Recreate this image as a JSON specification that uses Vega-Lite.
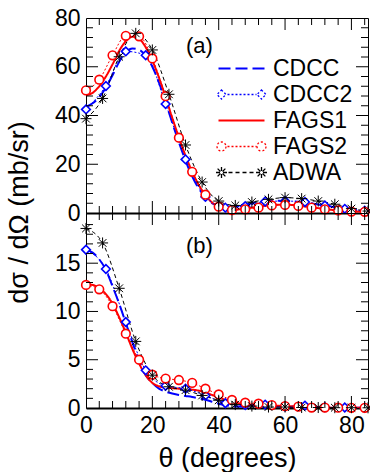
{
  "$schema": "https://vega.github.io/schema/vega-lite/v6.json",
  "padding": {"left": 4, "top": 6, "right": 2, "bottom": 2},
  "bounds": "flush",
  "spacing": 0,
  "config": {
    "font": "Liberation Sans",
    "view": {"stroke": "black", "strokeWidth": 1},
    "axis": {"grid": false, "labelFont": "Liberation Sans", "labelFontSize": 23, "labelColor": "black", "labelFlush": false, "titleFont": "Liberation Sans", "titleFontSize": 24, "titleFontWeight": "normal", "titleColor": "black", "ticks": false, "domain": false}
  },
  "datasets": {
    "xt": [{"k":4,"m":"minor"},{"k":8,"m":"minor"},{"k":12,"m":"minor"},{"k":16,"m":"minor"},{"k":20,"m":"major"},{"k":24,"m":"minor"},{"k":28,"m":"minor"},{"k":32,"m":"minor"},{"k":36,"m":"minor"},{"k":40,"m":"major"},{"k":44,"m":"minor"},{"k":48,"m":"minor"},{"k":52,"m":"minor"},{"k":56,"m":"minor"},{"k":60,"m":"major"},{"k":64,"m":"minor"},{"k":68,"m":"minor"},{"k":72,"m":"minor"},{"k":76,"m":"minor"},{"k":80,"m":"major"},{"k":84,"m":"minor"}],
    "yta": [{"k":4,"m":"minor"},{"k":8,"m":"minor"},{"k":12,"m":"minor"},{"k":16,"m":"minor"},{"k":20,"m":"major"},{"k":24,"m":"minor"},{"k":28,"m":"minor"},{"k":32,"m":"minor"},{"k":36,"m":"minor"},{"k":40,"m":"major"},{"k":44,"m":"minor"},{"k":48,"m":"minor"},{"k":52,"m":"minor"},{"k":56,"m":"minor"},{"k":60,"m":"major"},{"k":64,"m":"minor"},{"k":68,"m":"minor"},{"k":72,"m":"minor"},{"k":76,"m":"minor"}],
    "ytb": [{"k":1,"m":"minor"},{"k":2,"m":"minor"},{"k":3,"m":"minor"},{"k":4,"m":"minor"},{"k":5,"m":"major"},{"k":6,"m":"minor"},{"k":7,"m":"minor"},{"k":8,"m":"minor"},{"k":9,"m":"minor"},{"k":10,"m":"major"},{"k":11,"m":"minor"},{"k":12,"m":"minor"},{"k":13,"m":"minor"},{"k":14,"m":"minor"},{"k":15,"m":"major"},{"k":16,"m":"minor"},{"k":17,"m":"minor"},{"k":18,"m":"minor"},{"k":19,"m":"minor"}],
    "a": [
      {"s":"CDCC","t":0,"v":43.5},{"s":"CDCC","t":2,"v":45},{"s":"CDCC","t":4,"v":47.5},{"s":"CDCC","t":6,"v":51.5},{"s":"CDCC","t":8,"v":56.5},{"s":"CDCC","t":10,"v":62},{"s":"CDCC","t":12,"v":66},{"s":"CDCC","t":14,"v":67.5},{"s":"CDCC","t":16,"v":67},{"s":"CDCC","t":18,"v":64.5},{"s":"CDCC","t":20,"v":60},{"s":"CDCC","t":22,"v":53.5},{"s":"CDCC","t":24,"v":45.5},{"s":"CDCC","t":26,"v":37},{"s":"CDCC","t":28,"v":29},{"s":"CDCC","t":30,"v":21.5},{"s":"CDCC","t":32,"v":15},{"s":"CDCC","t":34,"v":10},{"s":"CDCC","t":36,"v":6.5},{"s":"CDCC","t":38,"v":4},{"s":"CDCC","t":40,"v":2.7},{"s":"CDCC","t":42,"v":2.2},{"s":"CDCC","t":44,"v":2.3},{"s":"CDCC","t":46,"v":2.8},{"s":"CDCC","t":48,"v":3.4},{"s":"CDCC","t":50,"v":4},{"s":"CDCC","t":52,"v":4.5},{"s":"CDCC","t":54,"v":4.8},{"s":"CDCC","t":56,"v":5},{"s":"CDCC","t":58,"v":5},{"s":"CDCC","t":60,"v":4.9},{"s":"CDCC","t":62,"v":4.8},{"s":"CDCC","t":64,"v":4.6},{"s":"CDCC","t":66,"v":4.3},{"s":"CDCC","t":68,"v":3.9},{"s":"CDCC","t":70,"v":3.5},{"s":"CDCC","t":72,"v":3.1},{"s":"CDCC","t":74,"v":2.6},{"s":"CDCC","t":76,"v":2.2},{"s":"CDCC","t":78,"v":1.8},{"s":"CDCC","t":80,"v":1.4},{"s":"CDCC","t":82,"v":1.1},{"s":"CDCC","t":84,"v":0.9},{"s":"CDCC","t":85,"v":0.8},
      {"s":"CDCC2","t":0,"v":42.5},{"s":"CDCC2","t":6,"v":52.1},{"s":"CDCC2","t":12,"v":66.3},{"s":"CDCC2","t":18,"v":64.7},{"s":"CDCC2","t":24,"v":44.7},{"s":"CDCC2","t":30,"v":22},{"s":"CDCC2","t":36,"v":6.6},{"s":"CDCC2","t":42,"v":2.2},{"s":"CDCC2","t":48,"v":2.8},{"s":"CDCC2","t":54,"v":4.7},{"s":"CDCC2","t":60,"v":4.9},{"s":"CDCC2","t":66,"v":4.5},{"s":"CDCC2","t":72,"v":3.1},{"s":"CDCC2","t":78,"v":1.7},{"s":"CDCC2","t":84,"v":0.9},
      {"s":"FAGS1","t":0,"v":48.3},{"s":"FAGS1","t":2,"v":49.3},{"s":"FAGS1","t":4,"v":52},{"s":"FAGS1","t":6,"v":56},{"s":"FAGS1","t":8,"v":61},{"s":"FAGS1","t":10,"v":66.5},{"s":"FAGS1","t":12,"v":70.5},{"s":"FAGS1","t":14,"v":72.3},{"s":"FAGS1","t":16,"v":71.5},{"s":"FAGS1","t":18,"v":68},{"s":"FAGS1","t":20,"v":62.5},{"s":"FAGS1","t":22,"v":55.5},{"s":"FAGS1","t":24,"v":47.5},{"s":"FAGS1","t":26,"v":39},{"s":"FAGS1","t":28,"v":31},{"s":"FAGS1","t":30,"v":23.5},{"s":"FAGS1","t":32,"v":17},{"s":"FAGS1","t":34,"v":11.5},{"s":"FAGS1","t":36,"v":7.3},{"s":"FAGS1","t":38,"v":4.3},{"s":"FAGS1","t":40,"v":2.6},{"s":"FAGS1","t":42,"v":1.7},{"s":"FAGS1","t":44,"v":1.4},{"s":"FAGS1","t":46,"v":1.5},{"s":"FAGS1","t":48,"v":1.8},{"s":"FAGS1","t":50,"v":2.2},{"s":"FAGS1","t":52,"v":2.6},{"s":"FAGS1","t":54,"v":3},{"s":"FAGS1","t":56,"v":3.3},{"s":"FAGS1","t":58,"v":3.4},{"s":"FAGS1","t":60,"v":3.4},{"s":"FAGS1","t":62,"v":3.3},{"s":"FAGS1","t":64,"v":3},{"s":"FAGS1","t":66,"v":2.7},{"s":"FAGS1","t":68,"v":2.3},{"s":"FAGS1","t":70,"v":2},{"s":"FAGS1","t":72,"v":1.6},{"s":"FAGS1","t":74,"v":1.3},{"s":"FAGS1","t":76,"v":1.1},{"s":"FAGS1","t":78,"v":0.9},{"s":"FAGS1","t":80,"v":0.7},{"s":"FAGS1","t":82,"v":0.6},{"s":"FAGS1","t":84,"v":0.5},{"s":"FAGS1","t":85,"v":0.5},
      {"s":"FAGS2","t":0,"v":50.3},{"s":"FAGS2","t":4,"v":54.7},{"s":"FAGS2","t":8,"v":64.7},{"s":"FAGS2","t":12,"v":72.7},{"s":"FAGS2","t":16,"v":72.5},{"s":"FAGS2","t":20,"v":63.4},{"s":"FAGS2","t":24,"v":47.9},{"s":"FAGS2","t":28,"v":30.9},{"s":"FAGS2","t":32,"v":16.9},{"s":"FAGS2","t":36,"v":7.5},{"s":"FAGS2","t":40,"v":2.6},{"s":"FAGS2","t":44,"v":1.2},{"s":"FAGS2","t":48,"v":1.5},{"s":"FAGS2","t":52,"v":2.2},{"s":"FAGS2","t":56,"v":3.1},{"s":"FAGS2","t":60,"v":3.3},{"s":"FAGS2","t":64,"v":2.9},{"s":"FAGS2","t":68,"v":2.2},{"s":"FAGS2","t":72,"v":1.5},{"s":"FAGS2","t":76,"v":1.1},{"s":"FAGS2","t":80,"v":0.6},{"s":"FAGS2","t":84,"v":0.5},
      {"s":"ADWA","t":0,"v":38.7},{"s":"ADWA","t":5,"v":47},{"s":"ADWA","t":10,"v":64.1},{"s":"ADWA","t":15,"v":73.7},{"s":"ADWA","t":20,"v":66.9},{"s":"ADWA","t":25,"v":48.7},{"s":"ADWA","t":30,"v":27.9},{"s":"ADWA","t":35,"v":12.7},{"s":"ADWA","t":40,"v":4.9},{"s":"ADWA","t":45,"v":3.1},{"s":"ADWA","t":50,"v":4.5},{"s":"ADWA","t":55,"v":5.6},{"s":"ADWA","t":60,"v":6.3},{"s":"ADWA","t":65,"v":5.9},{"s":"ADWA","t":70,"v":4.9},{"s":"ADWA","t":75,"v":3.6},{"s":"ADWA","t":80,"v":1.8},{"s":"ADWA","t":85,"v":0.8}
    ],
    "b": [
      {"s":"CDCC","t":0,"v":16.4},{"s":"CDCC","t":2,"v":16.1},{"s":"CDCC","t":4,"v":15.4},{"s":"CDCC","t":6,"v":14.3},{"s":"CDCC","t":8,"v":12.6},{"s":"CDCC","t":10,"v":10.8},{"s":"CDCC","t":12,"v":8.8},{"s":"CDCC","t":14,"v":6.8},{"s":"CDCC","t":16,"v":4.9},{"s":"CDCC","t":18,"v":3.4},{"s":"CDCC","t":20,"v":2.6},{"s":"CDCC","t":22,"v":2},{"s":"CDCC","t":24,"v":1.7},{"s":"CDCC","t":26,"v":1.5},{"s":"CDCC","t":28,"v":1.35},{"s":"CDCC","t":30,"v":1.25},{"s":"CDCC","t":32,"v":1.15},{"s":"CDCC","t":34,"v":1},{"s":"CDCC","t":36,"v":0.85},{"s":"CDCC","t":38,"v":0.65},{"s":"CDCC","t":40,"v":0.45},{"s":"CDCC","t":42,"v":0.3},{"s":"CDCC","t":44,"v":0.2},{"s":"CDCC","t":46,"v":0.15},{"s":"CDCC","t":48,"v":0.15},{"s":"CDCC","t":50,"v":0.2},{"s":"CDCC","t":52,"v":0.25},{"s":"CDCC","t":54,"v":0.25},{"s":"CDCC","t":56,"v":0.2},{"s":"CDCC","t":58,"v":0.15},{"s":"CDCC","t":60,"v":0.1},{"s":"CDCC","t":64,"v":0.1},{"s":"CDCC","t":68,"v":0.1},{"s":"CDCC","t":72,"v":0.05},{"s":"CDCC","t":76,"v":0.03},{"s":"CDCC","t":80,"v":0.02},{"s":"CDCC","t":85,"v":0.02},
      {"s":"CDCC2","t":0,"v":16.4},{"s":"CDCC2","t":6,"v":14.4},{"s":"CDCC2","t":12,"v":8.9},{"s":"CDCC2","t":18,"v":3.9},{"s":"CDCC2","t":24,"v":2.3},{"s":"CDCC2","t":30,"v":2},{"s":"CDCC2","t":36,"v":1.3},{"s":"CDCC2","t":42,"v":0.5},{"s":"CDCC2","t":48,"v":0.3},{"s":"CDCC2","t":54,"v":0.35},{"s":"CDCC2","t":60,"v":0.15},{"s":"CDCC2","t":66,"v":0.25},{"s":"CDCC2","t":72,"v":0.08},{"s":"CDCC2","t":78,"v":0.05},{"s":"CDCC2","t":84,"v":0.02},
      {"s":"FAGS1","t":0,"v":12.8},{"s":"FAGS1","t":2,"v":12.75},{"s":"FAGS1","t":4,"v":12.4},{"s":"FAGS1","t":6,"v":11.8},{"s":"FAGS1","t":8,"v":10.8},{"s":"FAGS1","t":10,"v":9.4},{"s":"FAGS1","t":12,"v":7.8},{"s":"FAGS1","t":14,"v":6.1},{"s":"FAGS1","t":16,"v":4.6},{"s":"FAGS1","t":18,"v":3.4},{"s":"FAGS1","t":20,"v":2.6},{"s":"FAGS1","t":22,"v":2.25},{"s":"FAGS1","t":24,"v":2.1},{"s":"FAGS1","t":26,"v":2.05},{"s":"FAGS1","t":28,"v":2},{"s":"FAGS1","t":30,"v":1.95},{"s":"FAGS1","t":32,"v":1.9},{"s":"FAGS1","t":34,"v":1.8},{"s":"FAGS1","t":36,"v":1.6},{"s":"FAGS1","t":38,"v":1.35},{"s":"FAGS1","t":40,"v":1.1},{"s":"FAGS1","t":42,"v":0.85},{"s":"FAGS1","t":44,"v":0.65},{"s":"FAGS1","t":46,"v":0.5},{"s":"FAGS1","t":48,"v":0.4},{"s":"FAGS1","t":50,"v":0.35},{"s":"FAGS1","t":52,"v":0.3},{"s":"FAGS1","t":56,"v":0.25},{"s":"FAGS1","t":60,"v":0.2},{"s":"FAGS1","t":64,"v":0.15},{"s":"FAGS1","t":68,"v":0.1},{"s":"FAGS1","t":72,"v":0.05},{"s":"FAGS1","t":76,"v":0.03},{"s":"FAGS1","t":80,"v":0.02},{"s":"FAGS1","t":85,"v":0.02},
      {"s":"FAGS2","t":0,"v":12.75},{"s":"FAGS2","t":4,"v":12.3},{"s":"FAGS2","t":8,"v":10.55},{"s":"FAGS2","t":12,"v":7.7},{"s":"FAGS2","t":16,"v":5},{"s":"FAGS2","t":20,"v":3.45},{"s":"FAGS2","t":24,"v":3.05},{"s":"FAGS2","t":28,"v":2.9},{"s":"FAGS2","t":32,"v":2.6},{"s":"FAGS2","t":36,"v":2},{"s":"FAGS2","t":40,"v":1.4},{"s":"FAGS2","t":44,"v":0.83},{"s":"FAGS2","t":48,"v":0.55},{"s":"FAGS2","t":52,"v":0.45},{"s":"FAGS2","t":56,"v":0.3},{"s":"FAGS2","t":60,"v":0.2},{"s":"FAGS2","t":64,"v":0.15},{"s":"FAGS2","t":68,"v":0.05},{"s":"FAGS2","t":72,"v":0.05},{"s":"FAGS2","t":76,"v":0.03},{"s":"FAGS2","t":80,"v":0.02},{"s":"FAGS2","t":84,"v":0.02},
      {"s":"ADWA","t":0,"v":18.6},{"s":"ADWA","t":5,"v":17.1},{"s":"ADWA","t":10,"v":12.4},{"s":"ADWA","t":15,"v":6.9},{"s":"ADWA","t":20,"v":3.4},{"s":"ADWA","t":25,"v":2.2},{"s":"ADWA","t":30,"v":1.85},{"s":"ADWA","t":35,"v":1.3},{"s":"ADWA","t":40,"v":0.8},{"s":"ADWA","t":45,"v":0.35},{"s":"ADWA","t":50,"v":0.2},{"s":"ADWA","t":55,"v":0.1},{"s":"ADWA","t":60,"v":0.1},{"s":"ADWA","t":65,"v":0.05},{"s":"ADWA","t":70,"v":0.05},{"s":"ADWA","t":75,"v":0.03},{"s":"ADWA","t":80,"v":0.03},{"s":"ADWA","t":85,"v":0.02}
    ]
  },
  "resolve": {"scale": {"color": "independent", "strokeDash": "independent", "shape": "independent"}},
  "vconcat": [
    {
      "width": 282, "height": 195,
      "layer": [
        {
          "data": {"name": "a"},
          "transform": [{"filter": "datum.s === 'CDCC' || datum.s === 'FAGS1'"}],
          "mark": {"type": "line", "strokeWidth": 2, "interpolate": "monotone", "clip": true},
          "encoding": {
            "x": {"field": "t", "type": "quantitative", "scale": {"domain": [0, 85], "nice": false, "zero": false}, "axis": {"orient": "bottom", "values": [0, 20, 40, 60, 80], "labels": false, "title": null, "domain": true, "domainColor": "black", "domainWidth": 2}},
            "y": {"field": "v", "type": "quantitative", "scale": {"domain": [0, 80], "nice": false}, "axis": {"orient": "left", "values": [0, 20, 40, 60, 80], "labelPadding": 6, "title": null}},
            "color": {"field": "s", "type": "nominal", "scale": {"domain": ["CDCC", "CDCC2", "FAGS1", "FAGS2", "ADWA"], "range": ["#0000ff", "#0000ff", "#ff0000", "#ff0000", "#000000"]},
              "legend": {"orient": "none", "legendX": 121, "legendY": 39, "title": null, "symbolSize": 4, "symbolStrokeWidth": 1.3, "labelOffset": 43, "rowPadding": 2, "labelFont": "Liberation Sans", "labelFontSize": 23, "labelColor": "black",
                "encode": {"symbols": {"update": {
                  "shape": {"signal": "datum.value === 'CDCC' ? 'M0,0H12M17,0H29M34,0H46' : datum.value === 'CDCC2' ? 'M3,-4.5L7.5,0L3,4.5L-1.5,0ZM43,-4.5L47.5,0L43,4.5L38.5,0ZM9,0H11M13,0H15M17,0H19M21,0H23M25,0H27M29,0H31M33,0H35M37,0H38' : datum.value === 'FAGS1' ? 'M0,0H46' : datum.value === 'FAGS2' ? 'M7.5,0A4.5,4.5,0,1,1,-1.5,0A4.5,4.5,0,1,1,7.5,0ZM47.5,0A4.5,4.5,0,1,1,38.5,0A4.5,4.5,0,1,1,47.5,0ZM9,0H11M13,0H15M17,0H19M21,0H23M25,0H27M29,0H31M33,0H35M37,0H38' : 'M-2.5,0H8.5M3,-5.5V5.5M-0.9,-3.9L6.9,3.9M-0.9,3.9L6.9,-3.9M37.5,0H48.5M43,-5.5V5.5M39.1,-3.9L46.9,3.9M39.1,3.9L46.9,-3.9M10,0H14M17,0H21M24,0H28M31,0H35'"},
                  "strokeDash": {"value": [1, 0]},
                  "fill": {"value": "white"},
                  "strokeWidth": {"signal": "datum.value === 'CDCC' || datum.value === 'FAGS1' ? 2 : 1.3"}
                }}}
              }},
            "strokeDash": {"field": "s", "type": "nominal", "scale": {"domain": ["CDCC", "CDCC2", "FAGS1", "FAGS2", "ADWA"], "range": [[12, 5], [2, 2], [1, 0], [2, 2], [4, 3]]}, "legend": null}
          }
        },
        {
          "data": {"name": "a"},
          "transform": [{"filter": "datum.s === 'CDCC2' || datum.s === 'FAGS2' || datum.s === 'ADWA'"}],
          "mark": {"type": "line", "strokeWidth": 1, "interpolate": "monotone", "clip": true},
          "encoding": {
            "x": {"field": "t", "type": "quantitative"},
            "y": {"field": "v", "type": "quantitative"},
            "color": {"field": "s", "type": "nominal", "legend": null},
            "strokeDash": {"field": "s", "type": "nominal", "legend": null}
          }
        },
        {
          "data": {"name": "a"},
          "transform": [{"filter": "datum.s === 'CDCC2' || datum.s === 'FAGS2'"}],
          "mark": {"type": "point", "filled": false, "fill": "white", "strokeWidth": 1.6, "size": 75, "opacity": 1},
          "encoding": {
            "x": {"field": "t", "type": "quantitative"},
            "y": {"field": "v", "type": "quantitative"},
            "color": {"field": "s", "type": "nominal", "legend": null},
            "shape": {"field": "s", "type": "nominal", "scale": {"domain": ["CDCC2", "FAGS2", "ADWA"], "range": ["diamond", "circle", "M-1,0L1,0M0,-1L0,1M-0.7,-0.7L0.7,0.7M-0.7,0.7L0.7,-0.7"]}, "legend": null}
          }
        },
        {
          "data": {"name": "a"},
          "transform": [{"filter": "datum.s === 'ADWA'"}],
          "mark": {"type": "point", "filled": false, "strokeWidth": 1, "size": 121, "opacity": 1},
          "encoding": {
            "x": {"field": "t", "type": "quantitative"},
            "y": {"field": "v", "type": "quantitative"},
            "color": {"field": "s", "type": "nominal", "legend": null},
            "shape": {"field": "s", "type": "nominal", "legend": null}
          }
        },
        {"data": {"name": "xt"}, "transform": [{"filter": "datum.m === 'major'"}], "mark": {"type": "point", "shape": "M0,0V-2", "size": 144, "filled": false, "stroke": "black", "strokeWidth": 1, "opacity": 1}, "encoding": {"x": {"field": "k", "type": "quantitative"}, "y": {"datum": 0, "type": "quantitative"}}},
        {"data": {"name": "xt"}, "transform": [{"filter": "datum.m === 'minor'"}], "mark": {"type": "point", "shape": "M0,0V-2", "size": 49, "filled": false, "stroke": "black", "strokeWidth": 1, "opacity": 1}, "encoding": {"x": {"field": "k", "type": "quantitative"}, "y": {"datum": 0, "type": "quantitative"}}},
        {"data": {"name": "xt"}, "transform": [{"filter": "datum.m === 'major'"}], "mark": {"type": "point", "shape": "M0,0V2", "size": 144, "filled": false, "stroke": "black", "strokeWidth": 1, "opacity": 1}, "encoding": {"x": {"field": "k", "type": "quantitative"}, "y": {"datum": 80, "type": "quantitative"}}},
        {"data": {"name": "xt"}, "transform": [{"filter": "datum.m === 'minor'"}], "mark": {"type": "point", "shape": "M0,0V2", "size": 49, "filled": false, "stroke": "black", "strokeWidth": 1, "opacity": 1}, "encoding": {"x": {"field": "k", "type": "quantitative"}, "y": {"datum": 80, "type": "quantitative"}}},
        {"data": {"name": "yta"}, "transform": [{"filter": "datum.m === 'major'"}], "mark": {"type": "point", "shape": "M0,0H2", "size": 144, "filled": false, "stroke": "black", "strokeWidth": 1, "opacity": 1}, "encoding": {"y": {"field": "k", "type": "quantitative"}, "x": {"datum": 0, "type": "quantitative"}}},
        {"data": {"name": "yta"}, "transform": [{"filter": "datum.m === 'minor'"}], "mark": {"type": "point", "shape": "M0,0H2", "size": 49, "filled": false, "stroke": "black", "strokeWidth": 1, "opacity": 1}, "encoding": {"y": {"field": "k", "type": "quantitative"}, "x": {"datum": 0, "type": "quantitative"}}},
        {"data": {"name": "yta"}, "transform": [{"filter": "datum.m === 'major'"}], "mark": {"type": "point", "shape": "M0,0H-2", "size": 144, "filled": false, "stroke": "black", "strokeWidth": 1, "opacity": 1}, "encoding": {"y": {"field": "k", "type": "quantitative"}, "x": {"datum": 85, "type": "quantitative"}}},
        {"data": {"name": "yta"}, "transform": [{"filter": "datum.m === 'minor'"}], "mark": {"type": "point", "shape": "M0,0H-2", "size": 49, "filled": false, "stroke": "black", "strokeWidth": 1, "opacity": 1}, "encoding": {"y": {"field": "k", "type": "quantitative"}, "x": {"datum": 85, "type": "quantitative"}}},
        {
          "data": {"values": [{}]},
          "mark": {"type": "text", "fontSize": 22, "fontWeight": "normal", "font": "Liberation Sans", "color": "black"},
          "encoding": {
            "x": {"datum": 34.2, "type": "quantitative"},
            "y": {"datum": 68.5, "type": "quantitative"},
            "text": {"value": "(a)"}
          }
        }
      ]
    },
    {
      "width": 282, "height": 195,
      "layer": [
        {
          "data": {"name": "b"},
          "transform": [{"filter": "datum.s === 'CDCC' || datum.s === 'FAGS1'"}],
          "mark": {"type": "line", "strokeWidth": 2, "interpolate": "monotone", "clip": true},
          "encoding": {
            "x": {"field": "t", "type": "quantitative", "scale": {"domain": [0, 85], "nice": false, "zero": false}, "axis": {"orient": "bottom", "values": [0, 20, 40, 60, 80], "labelPadding": 6, "title": "θ (degrees)", "titleFontSize": 27, "titlePadding": 8, "domain": true, "domainColor": "black", "domainWidth": 2}},
            "y": {"field": "v", "type": "quantitative", "scale": {"domain": [0, 20.2], "nice": false}, "axis": {"orient": "left", "values": [0, 5, 10, 15], "labelPadding": 6, "title": "dσ / dΩ (mb/sr)", "titleFontSize": 27, "titleX": -53, "titleY": -1, "titleAlign": "center", "titleAngle": -90}},
            "color": {"field": "s", "type": "nominal", "scale": {"domain": ["CDCC", "CDCC2", "FAGS1", "FAGS2", "ADWA"], "range": ["#0000ff", "#0000ff", "#ff0000", "#ff0000", "#000000"]}, "legend": null},
            "strokeDash": {"field": "s", "type": "nominal", "scale": {"domain": ["CDCC", "CDCC2", "FAGS1", "FAGS2", "ADWA"], "range": [[12, 5], [2, 2], [1, 0], [2, 2], [4, 3]]}, "legend": null}
          }
        },
        {
          "data": {"name": "b"},
          "transform": [{"filter": "datum.s === 'CDCC2' || datum.s === 'FAGS2' || datum.s === 'ADWA'"}],
          "mark": {"type": "line", "strokeWidth": 1, "interpolate": "monotone", "clip": true},
          "encoding": {
            "x": {"field": "t", "type": "quantitative"},
            "y": {"field": "v", "type": "quantitative"},
            "color": {"field": "s", "type": "nominal", "legend": null},
            "strokeDash": {"field": "s", "type": "nominal", "legend": null}
          }
        },
        {
          "data": {"name": "b"},
          "transform": [{"filter": "datum.s === 'CDCC2' || datum.s === 'FAGS2'"}],
          "mark": {"type": "point", "filled": false, "fill": "white", "strokeWidth": 1.6, "size": 75, "opacity": 1},
          "encoding": {
            "x": {"field": "t", "type": "quantitative"},
            "y": {"field": "v", "type": "quantitative"},
            "color": {"field": "s", "type": "nominal", "legend": null},
            "shape": {"field": "s", "type": "nominal", "scale": {"domain": ["CDCC2", "FAGS2", "ADWA"], "range": ["diamond", "circle", "M-1,0L1,0M0,-1L0,1M-0.7,-0.7L0.7,0.7M-0.7,0.7L0.7,-0.7"]}, "legend": null}
          }
        },
        {
          "data": {"name": "b"},
          "transform": [{"filter": "datum.s === 'ADWA'"}],
          "mark": {"type": "point", "filled": false, "strokeWidth": 1, "size": 121, "opacity": 1},
          "encoding": {
            "x": {"field": "t", "type": "quantitative"},
            "y": {"field": "v", "type": "quantitative"},
            "color": {"field": "s", "type": "nominal", "legend": null},
            "shape": {"field": "s", "type": "nominal", "legend": null}
          }
        },
        {"data": {"name": "xt"}, "transform": [{"filter": "datum.m === 'major'"}], "mark": {"type": "point", "shape": "M0,0V-2", "size": 144, "filled": false, "stroke": "black", "strokeWidth": 1, "opacity": 1}, "encoding": {"x": {"field": "k", "type": "quantitative"}, "y": {"datum": 0, "type": "quantitative"}}},
        {"data": {"name": "xt"}, "transform": [{"filter": "datum.m === 'minor'"}], "mark": {"type": "point", "shape": "M0,0V-2", "size": 49, "filled": false, "stroke": "black", "strokeWidth": 1, "opacity": 1}, "encoding": {"x": {"field": "k", "type": "quantitative"}, "y": {"datum": 0, "type": "quantitative"}}},
        {"data": {"name": "xt"}, "transform": [{"filter": "datum.m === 'major'"}], "mark": {"type": "point", "shape": "M0,0V2", "size": 144, "filled": false, "stroke": "black", "strokeWidth": 1, "opacity": 1}, "encoding": {"x": {"field": "k", "type": "quantitative"}, "y": {"datum": 20.2, "type": "quantitative"}}},
        {"data": {"name": "xt"}, "transform": [{"filter": "datum.m === 'minor'"}], "mark": {"type": "point", "shape": "M0,0V2", "size": 49, "filled": false, "stroke": "black", "strokeWidth": 1, "opacity": 1}, "encoding": {"x": {"field": "k", "type": "quantitative"}, "y": {"datum": 20.2, "type": "quantitative"}}},
        {"data": {"name": "ytb"}, "transform": [{"filter": "datum.m === 'major'"}], "mark": {"type": "point", "shape": "M0,0H2", "size": 144, "filled": false, "stroke": "black", "strokeWidth": 1, "opacity": 1}, "encoding": {"y": {"field": "k", "type": "quantitative"}, "x": {"datum": 0, "type": "quantitative"}}},
        {"data": {"name": "ytb"}, "transform": [{"filter": "datum.m === 'minor'"}], "mark": {"type": "point", "shape": "M0,0H2", "size": 49, "filled": false, "stroke": "black", "strokeWidth": 1, "opacity": 1}, "encoding": {"y": {"field": "k", "type": "quantitative"}, "x": {"datum": 0, "type": "quantitative"}}},
        {"data": {"name": "ytb"}, "transform": [{"filter": "datum.m === 'major'"}], "mark": {"type": "point", "shape": "M0,0H-2", "size": 144, "filled": false, "stroke": "black", "strokeWidth": 1, "opacity": 1}, "encoding": {"y": {"field": "k", "type": "quantitative"}, "x": {"datum": 85, "type": "quantitative"}}},
        {"data": {"name": "ytb"}, "transform": [{"filter": "datum.m === 'minor'"}], "mark": {"type": "point", "shape": "M0,0H-2", "size": 49, "filled": false, "stroke": "black", "strokeWidth": 1, "opacity": 1}, "encoding": {"y": {"field": "k", "type": "quantitative"}, "x": {"datum": 85, "type": "quantitative"}}},
        {
          "data": {"values": [{}]},
          "mark": {"type": "text", "fontSize": 22, "fontWeight": "normal", "font": "Liberation Sans", "color": "black"},
          "encoding": {
            "x": {"datum": 34.2, "type": "quantitative"},
            "y": {"datum": 16.75, "type": "quantitative"},
            "text": {"value": "(b)"}
          }
        }
      ]
    }
  ]
}
